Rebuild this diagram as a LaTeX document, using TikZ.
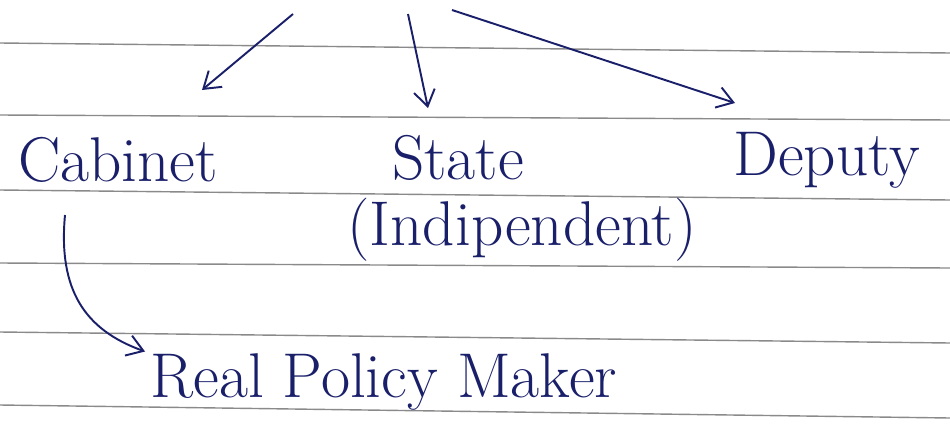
\documentclass[tikz,border=0pt]{standalone}
\usepackage{tikz}
\usetikzlibrary{arrows.meta}
\usepackage{xcolor}
\definecolor{Ink}{HTML}{1A1F6A}
\definecolor{Rule}{HTML}{8A8A8A}
\tikzset{
  inkword/.style={text=Ink, inner sep=0pt, font=\fontsize{36}{40}\selectfont},
  inkarr/.style={-{Straight Barb[length=9pt,width=12pt]}, line width=1.1pt, draw=Ink},
}

\begin{document}
\begin{tikzpicture}[x=0.02cm, y=-0.02cm,
  ruling/.style={draw=Rule, line width=0.8pt},
]
  \useasboundingbox (0,0) rectangle (950,430);
  \clip (0,0) rectangle (950,430);
  \foreach \ya/\yb in {43/53, 115/120, 190/200, 263/268, 332/343, 405/418}
    \draw[ruling] (0,\ya) -- (950,\yb);

  \node[inkword] (cab) at (118,160) {Cabinet};
  \node[inkword] (state) at (458,158) {State};
  \node[inkword] (indep) at (522,230) {(Indipendent)};
  \node[inkword, anchor=west] (dep) at (733,160) {Deputy};
  \node[inkword, anchor=west] (rpm) at (150,382) {Real Policy Maker};

  \coordinate (t1) at (293,14);
  \coordinate (h1) at (202,90);
  \coordinate (t2) at (408,14);
  \coordinate (h2) at (428,108);
  \coordinate (t3) at (452,10);
  \coordinate (h3) at (735,103);
  \coordinate (t4) at (65,215);
  \draw[inkarr] (t1) -- (h1);
  \draw[inkarr] (t2) -- (h2);
  \draw[inkarr] (t3) -- (h3);
  \draw[inkarr, shorten >=3pt] (t4) .. controls (58,290) and (85,330) .. (rpm.north west);
\end{tikzpicture}
\end{document}
